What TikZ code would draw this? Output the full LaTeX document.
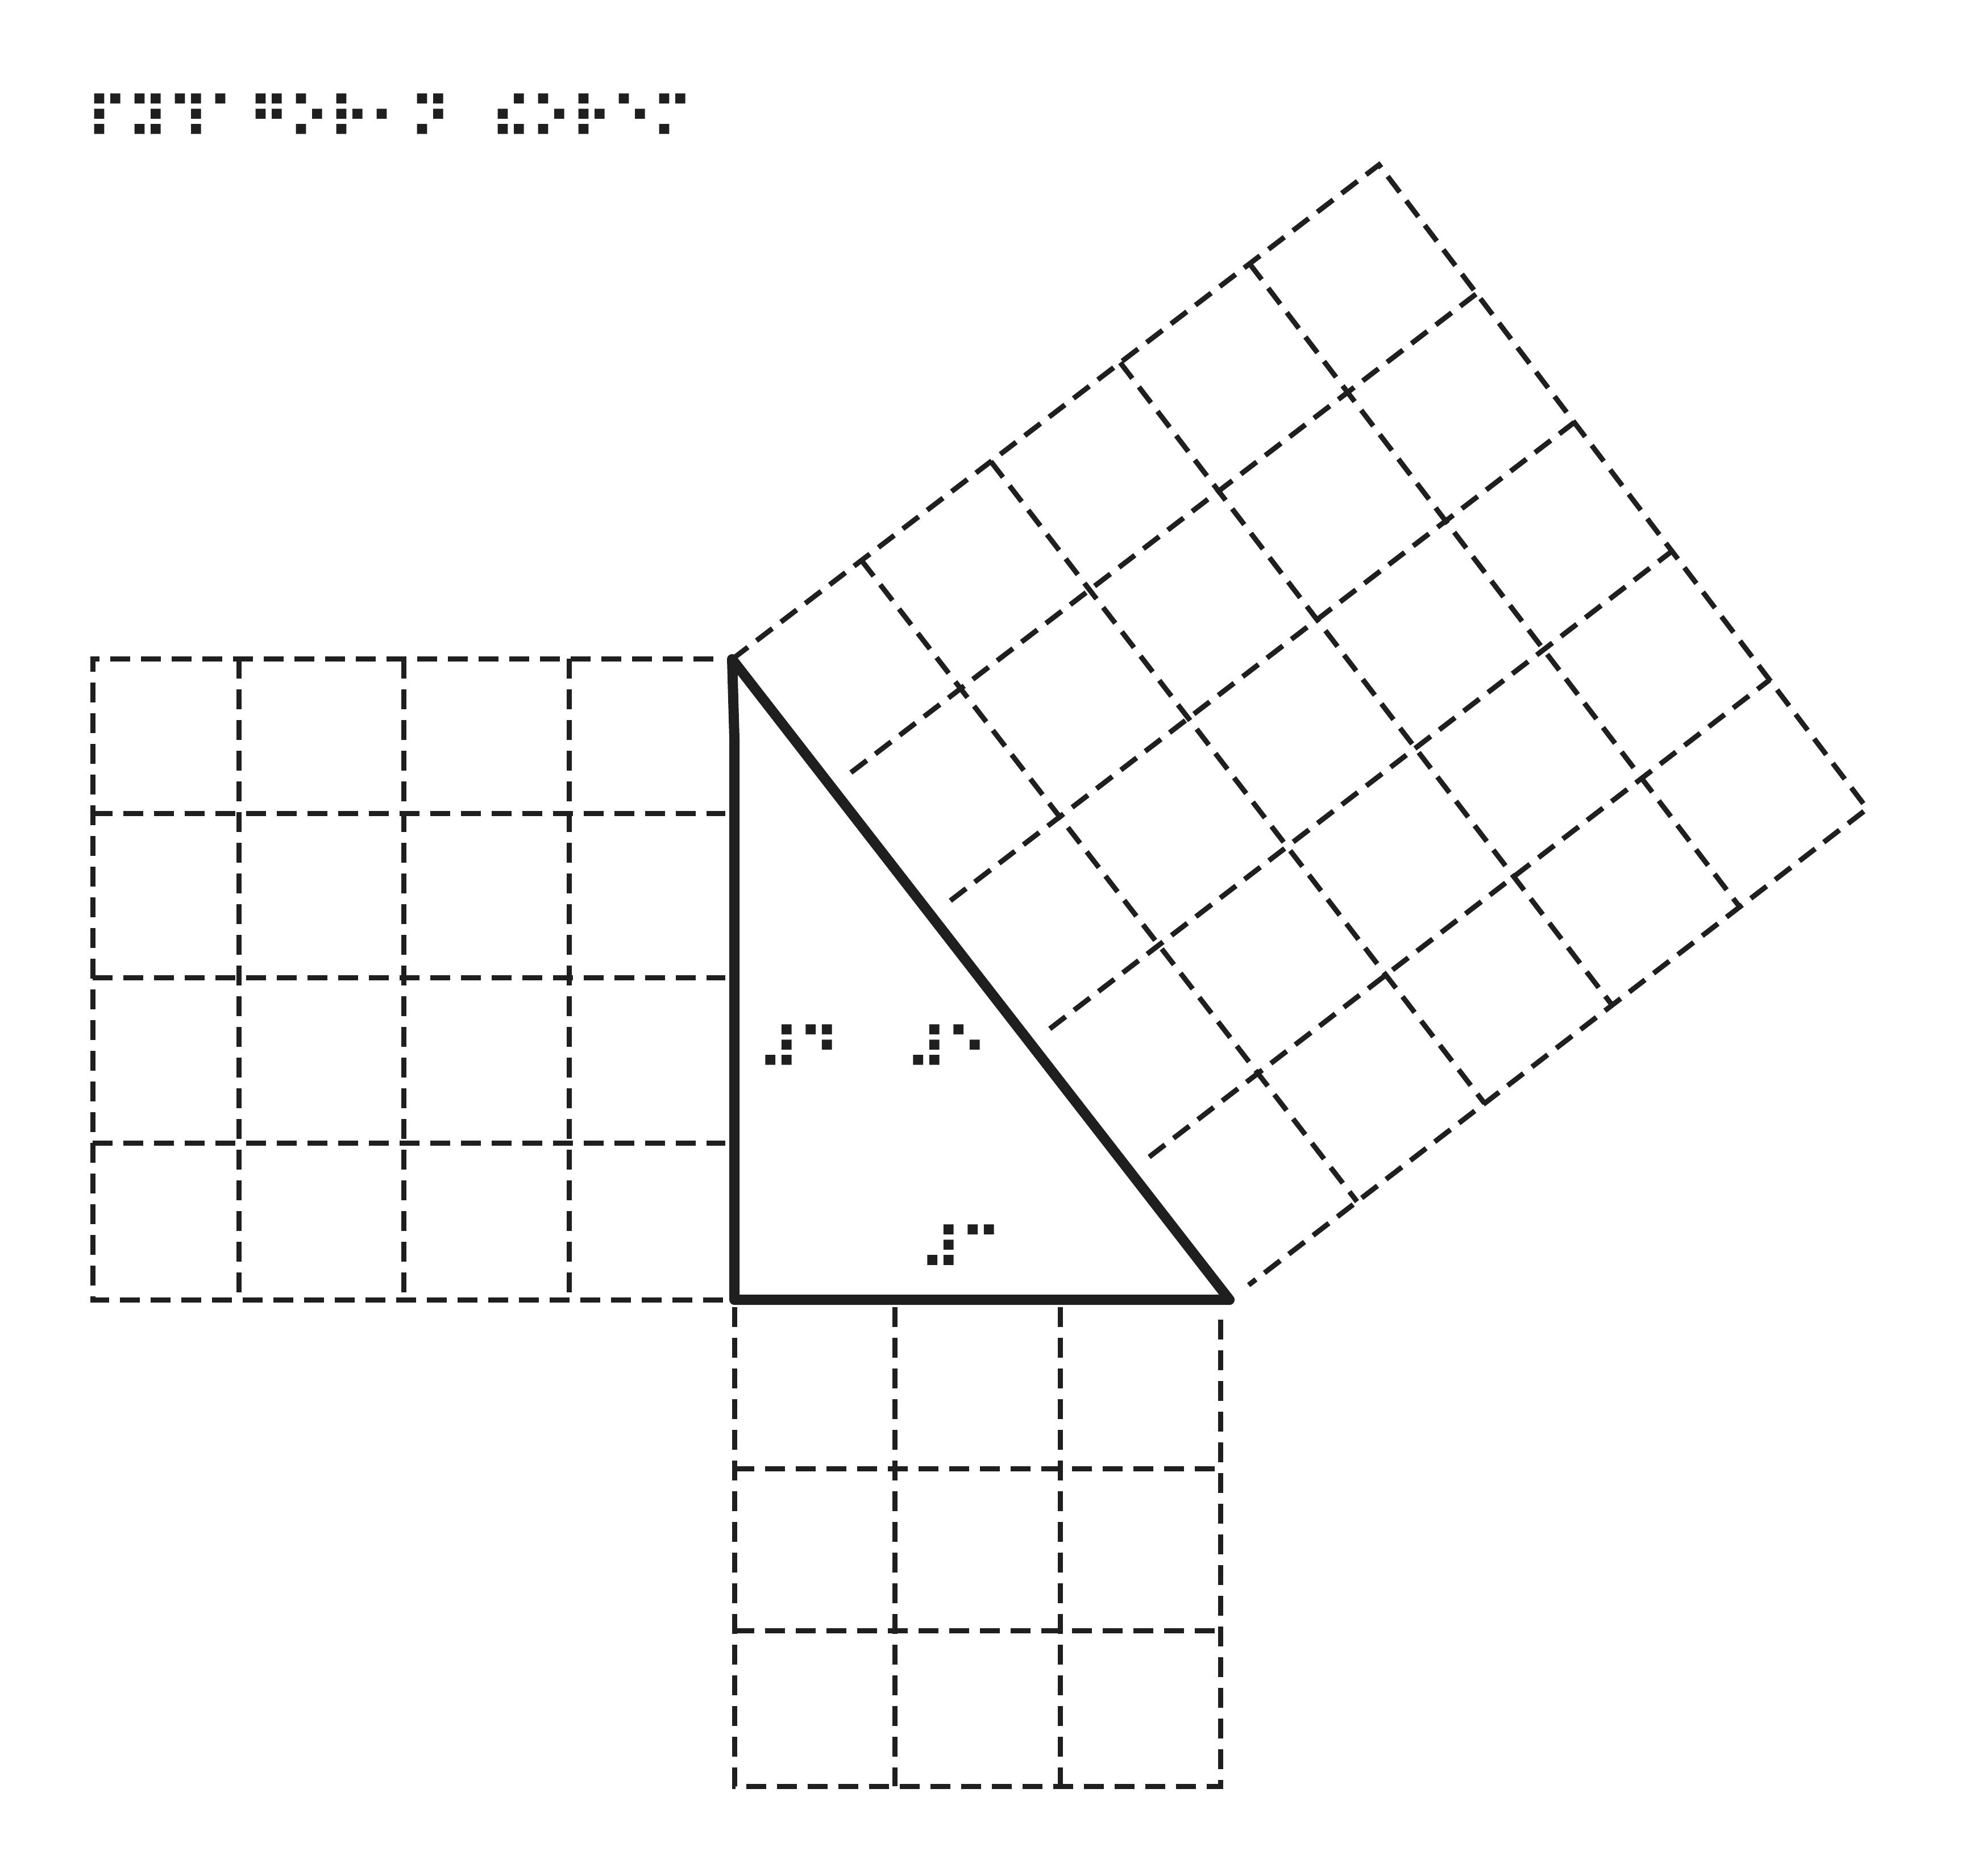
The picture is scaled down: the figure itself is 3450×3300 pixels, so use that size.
\documentclass[tikz,border=0pt]{standalone}
\usepackage{fontspec}
\newfontfamily\braillefont[FakeBold=3.5]{DejaVu Sans}
\usetikzlibrary{calc}
\begin{document}
\begin{tikzpicture}[x=0.1pt,y=-0.1pt,
  gridline/.style={line width=0.9pt, dash pattern=on 3.5pt off 1.9pt, color=black!88},
  tri/.style={line width=1.8pt, line join=round, color=black!88},
  brl/.style={inner sep=0pt, outer sep=0pt, font=\braillefont\fontsize{9.7}{9.7}\selectfont, text=black!88}]
\useasboundingbox (0,0) rectangle (3450,3300);
% title
\node[brl] (title) at (686,204) {⠏⠽⠹⠁⠛⠕⠗⠂⠝⠀⠮⠕⠗⠑⠍};
% triangle corners
\coordinate (A) at (1288,1160);
\coordinate (A2) at (1292,1300);
\coordinate (R) at (1292,2287);
\coordinate (B) at (2163,2287);
% hypotenuse square corners
\coordinate (D) at (2426,290);
\coordinate (C) at (3285,1423);
% left square
\draw[gridline] (1255,1159) -- (163,1159) -- (163,2287) -- (1278,2287);
\foreach \xx in {420,710,1001}{\draw[gridline] (\xx,1159) -- (\xx,2287);}
\foreach \yy in {1431,1720,2011}{\draw[gridline] (163,\yy) -- (1276,\yy);}
% bottom square
\draw[gridline] (1292,2300) -- (1292,3143) -- (2147,3143) -- (2147,2310);
\foreach \xx in {1574,1865}{\draw[gridline] (\xx,2300) -- (\xx,3143);}
\foreach \yy in {2584,2869}{\draw[gridline] (1292,\yy) -- (2147,\yy);}
% hypotenuse square
\coordinate (Bs) at ($(B)!0.03!(C)$);
\draw[gridline] (A) -- (D) -- (C) -- (Bs);
\foreach \t in {0.2,0.4,0.6,0.8}{
  \coordinate (p) at ($(A)!\t!(D)$);
  \coordinate (q) at ($(B)!\t!(C)$);
  \draw[gridline] (p) -- (q);
  \coordinate (s) at ($(A)!\t!(B)$);
  \coordinate (e) at ($(D)!\t!(C)$);
  \draw[gridline] ($(s)!0.03!(e)$) -- (e);
}
% triangle
\draw[tri] (A) -- (A2) -- (R) -- (B) -- cycle;
% labels
\node[brl] (la) at (1405,1842) {⠼⠙};
\node[brl] (lc) at (1665,1842) {⠼⠑};
\node[brl] (lb) at (1690,2194) {⠼⠉};
\end{tikzpicture}
\end{document}
